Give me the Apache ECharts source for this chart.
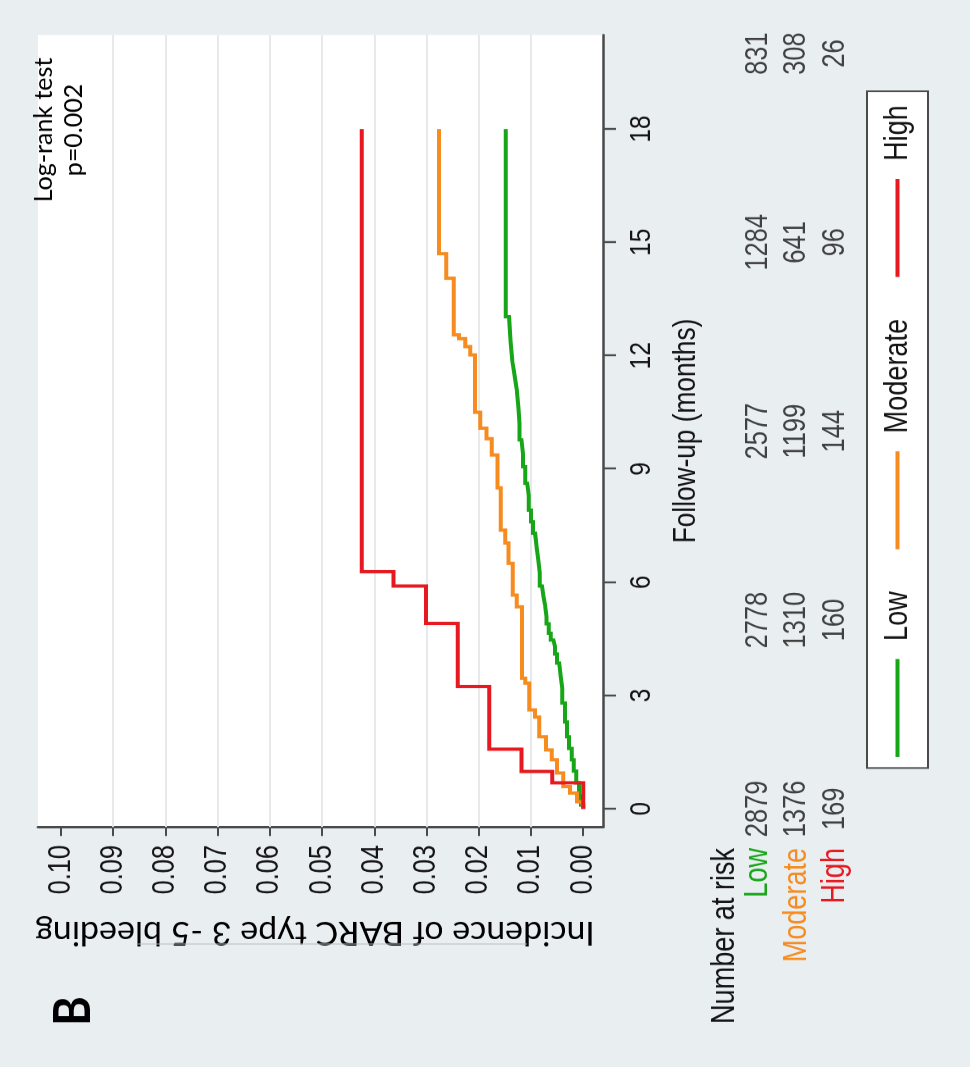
<!DOCTYPE html>
<html>
<head>
<meta charset="utf-8">
<script src="https://cdn.jsdelivr.net/npm/echarts@6/dist/echarts.min.js"></script>
<style>
  html, body { margin: 0; padding: 0; overflow: hidden; background: #e9eef1; width: 970px; height: 1067px; }
  /* The figure is laid out landscape on a wider canvas, squeezed horizontally (narrow Stata-style type)
     and turned a quarter turn counter-clockwise onto the page */
  #stage { position: absolute; left: 0; top: 1067px; width: 1301.22px; height: 970px;
           transform-origin: 0 0; transform: rotate(-90deg) scale(0.82, 1); }
</style>
</head>
<body>
<div id="stage"></div>
<script>
// ---- data ----
const groups = ['Low', 'Moderate', 'High'];
const monthTicks = [0, 3, 6, 9, 12, 15, 18];
const incidenceTicks = [0, 0.01, 0.02, 0.03, 0.04, 0.05, 0.06, 0.07, 0.08, 0.09, 0.10];
const gridLineValues = [0.01, 0.02, 0.03, 0.04, 0.05, 0.06, 0.07, 0.08, 0.09];

// Kaplan-Meier cumulative incidence: time of each step (months) and level after it
const lowTime = [0, 0.10, 0.35, 0.69, 1.0, 1.3, 1.6, 1.91, 2.3, 2.8, 3.2, 3.5, 3.86, 4.1, 4.3, 4.47, 4.65, 4.9, 5.09, 5.4,
  5.62, 5.9, 6.25, 6.6, 6.9, 7.3, 7.6, 7.91, 8.3, 8.62, 9.06, 9.4, 9.77, 10.2, 10.6, 11.1, 11.36, 11.62, 11.88, 12.4, 13.03, 18];
const lowIncidence = [0, 0.0004, 0.0008, 0.0013, 0.0018, 0.0022, 0.0027, 0.0031, 0.0035, 0.0040, 0.0043, 0.0046, 0.0050, 0.0054,
  0.0057, 0.0062, 0.0066, 0.0070, 0.0073, 0.0076, 0.0079, 0.0083, 0.0086, 0.0089, 0.0092, 0.0096, 0.0100, 0.0104, 0.0107, 0.0111,
  0.0115, 0.0118, 0.0122, 0.0124, 0.0127, 0.0130, 0.0133, 0.0136, 0.0139, 0.0142, 0.0148, 0.0148];

const moderateTime = [0, 0.06, 0.19, 0.42, 0.59, 0.95, 1.30, 1.56, 1.91, 2.43, 2.62, 3.33, 3.46, 5.35, 5.66, 6.50, 7.04, 7.38,
  8.50, 9.37, 9.80, 10.08, 10.50, 12.02, 12.24, 12.45, 12.55, 14.05, 14.70, 18];
const moderateIncidence = [0, 0.0003, 0.0012, 0.0025, 0.0038, 0.0050, 0.0060, 0.0071, 0.0084, 0.0092, 0.0103, 0.0111, 0.0117,
  0.0127, 0.0135, 0.0143, 0.0149, 0.0158, 0.0164, 0.0175, 0.0185, 0.0197, 0.0207, 0.0216, 0.0226, 0.0238, 0.0248, 0.0262, 0.0276, 0.0276];

const highTime = [0, 0.69, 0.99, 1.58, 3.24, 4.91, 5.90, 6.28, 18];
const highIncidence = [0, 0.0059, 0.0118, 0.0180, 0.0240, 0.0301, 0.0363, 0.0424, 0.0424];

// Number at risk
const riskMonths = [0, 5, 10, 15, 20];
const riskLow = [2879, 2778, 2577, 1284, 831];
const riskModerate = [1376, 1310, 1199, 641, 308];
const riskHigh = [169, 160, 144, 96, 26];

// ---- styling ----
const K = 0.82;                       // horizontal squeeze applied by CSS
const hx = v => v / K;                // horizontal layout distance before the squeeze
const groupColors = ['#17a617', '#f68b1f', '#e5191f'];
const FONT_STATA = "'Liberation Sans', Arial, sans-serif";
const FONT_NOTE = "Lato, 'Open Sans', sans-serif";
const INK = '#141414';
const AXIS = '#4a4a4a';

const pairs = (xs, ys) => xs.map((x, i) => [x, ys[i]]);
const curves = [pairs(lowTime, lowIncidence), pairs(moderateTime, moderateIncidence), pairs(highTime, highIncidence)];
const riskRows = [riskLow, riskModerate, riskHigh];
const riskData = [];
groups.forEach((g, gi) => riskMonths.forEach((m, mi) => riskData.push([m, g, riskRows[gi][mi]])));

const chart = echarts.init(document.getElementById('stage'), null, { width: 1301.22, height: 970, renderer: 'canvas' });

const option = {
  animation: false,
  backgroundColor: '#e9eef1',
  textStyle: { fontFamily: FONT_STATA },
  grid: [
    { left: hx(240), right: hx(35), top: 38, bottom: 367, show: true, backgroundColor: '#ffffff', borderWidth: 0 },
    { left: hx(240), right: hx(35), top: 738.75, height: 115.5, show: false }
  ],
  xAxis: [
    {
      type: 'value', gridIndex: 0, min: -0.48, max: 20.49,
      axisLine: { show: true, onZero: false, lineStyle: { color: AXIS, width: 2.5 } },
      axisTick: { show: true, length: 13, customValues: monthTicks, lineStyle: { color: AXIS, width: 2.4 } },
      axisLabel: { customValues: monthTicks, margin: 24, fontSize: 30, color: INK, fontFamily: FONT_STATA },
      splitLine: { show: false },
      name: 'Follow-up (months)', nameLocation: 'middle', nameGap: 67,
      nameTextStyle: { fontSize: 32, color: INK, fontFamily: FONT_STATA }
    },
    { type: 'value', gridIndex: 1, min: -0.48, max: 20.49, show: false }
  ],
  yAxis: [
    {
      type: 'value', gridIndex: 0, min: -0.0038, max: 0.1044,
      axisLine: { show: true, onZero: false, lineStyle: { color: AXIS, width: 3 } },
      axisTick: { show: true, length: hx(9), customValues: incidenceTicks, lineStyle: { color: AXIS, width: 2 } },
      axisLabel: { customValues: incidenceTicks, formatter: v => v.toFixed(2), margin: hx(18), fontSize: 31, color: INK, fontFamily: FONT_STATA },
      splitLine: { show: false }
    },
    {
      type: 'category', gridIndex: 1, data: groups, inverse: true,
      axisLine: { show: false }, axisTick: { show: false }, splitLine: { show: false },
      axisLabel: { interval: 0, margin: hx(21), fontSize: 33, fontFamily: FONT_STATA,
                   color: v => groupColors[groups.indexOf(v)] }
    }
  ],
  legend: {
    data: groups, left: hx(299), top: 867, orient: 'horizontal', selectedMode: false,
    icon: 'rect', itemWidth: hx(98), itemHeight: 4, itemGap: hx(42),
    padding: [14, hx(14), 14, hx(11)], backgroundColor: '#ffffff', borderColor: AXIS, borderWidth: 2, borderRadius: 0,
    textStyle: { fontSize: 33, color: INK, fontFamily: FONT_STATA, padding: [0, 0, 0, 17] }
  },
  series: [
    {
      type: 'line', name: 'gridlines', xAxisIndex: 0, yAxisIndex: 0, data: [], silent: true, z: 1,
      markLine: {
        silent: true, z: 1, symbol: ['none', 'none'], label: { show: false }, animation: false,
        lineStyle: { color: '#e6eaed', width: 2, type: 'solid' },
        data: gridLineValues.map(v => ({ yAxis: v }))
      }
    },
    ...groups.map((g, gi) => ({
      type: 'line', name: g, xAxisIndex: 0, yAxisIndex: 0, data: curves[gi], step: 'end',
      showSymbol: false, symbol: 'none', z: 3,
      lineStyle: { color: groupColors[gi], width: 4, cap: 'butt', join: 'miter' },
      itemStyle: { color: groupColors[gi] }
    })),
    {
      type: 'scatter', name: 'at risk', xAxisIndex: 1, yAxisIndex: 1, data: riskData,
      symbolSize: 0.1, itemStyle: { color: 'transparent' }, silent: true,
      label: { show: true, position: 'inside', formatter: p => String(p.value[2]),
               fontSize: 31, color: INK, fontFamily: FONT_STATA }
    }
  ],
  graphic: [
    { type: 'text', x: hx(219), y: 725, style: { text: 'Number at risk', font: `33px ${FONT_STATA}`, fill: INK,
      textAlign: 'right', align: 'right', textVerticalAlign: 'middle', verticalAlign: 'middle' } },
    { type: 'text', x: hx(937), y: 44, scaleX: 1 / K, style: { text: 'Log-rank test', font: `25px ${FONT_NOTE}`, fill: '#000',
      textAlign: 'center', align: 'center', textVerticalAlign: 'middle', verticalAlign: 'middle' } },
    { type: 'text', x: hx(937), y: 74, scaleX: 1 / K, style: { text: 'p=0.002', font: `25px ${FONT_NOTE}`, fill: '#000',
      textAlign: 'center', align: 'center', textVerticalAlign: 'middle', verticalAlign: 'middle' } },
    { type: 'text', x: hx(134), y: 315, rotation: Math.PI / 2, scaleY: 1 / K,
      style: { text: 'Incidence of BARC type 3 -5 bleeding', font: `34px ${FONT_NOTE}`, fill: '#000',
      textAlign: 'center', align: 'center', textVerticalAlign: 'middle', verticalAlign: 'middle' } },
    { type: 'line', shape: { x1: hx(123), y1: 138, x2: hx(123), y2: 527 }, style: { stroke: '#b5b9bc', lineWidth: 1 } },
    { type: 'text', x: hx(56), y: 74, scaleX: 0.88 / K,
      style: { text: 'B', font: `bold 51px ${FONT_NOTE}`, fill: '#000',
      textAlign: 'center', align: 'center', textVerticalAlign: 'middle', verticalAlign: 'middle' } }
  ]
};

chart.setOption(option);
</script>
</body>
</html>
